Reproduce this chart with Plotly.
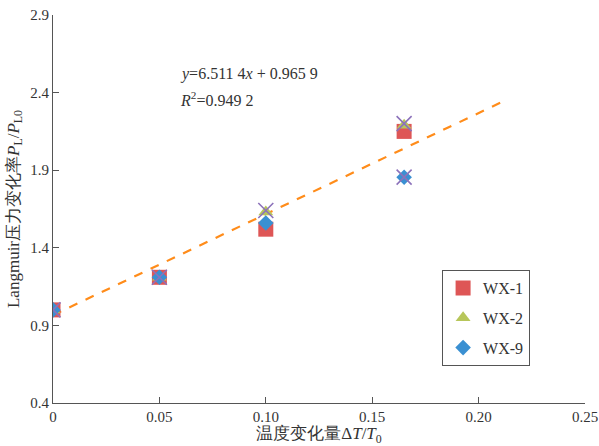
import plotly.graph_objects as go

x_vals = [0, 0.05, 0.10, 0.165]
wx1 = [1.00, 1.21, 1.52, 2.15]
wx2 = [1.00, 1.21, 1.63, 2.19]
wx9 = [1.00, 1.21, 1.56, 1.855]
xmark_x = [0, 0.05, 0.10, 0.165, 0.165]
xmark_y = [1.00, 1.21, 1.64, 2.20, 1.855]
slope, intercept = 6.5114, 0.9659
fit_x = [0, 0.211]
fit_y = [intercept + slope * v for v in fit_x]

xticks = [0, 0.05, 0.10, 0.15, 0.20, 0.25]
xtick_text = ["0", "0.05", "0.10", "0.15", "0.20", "0.25"]
yticks = [0.4, 0.9, 1.4, 1.9, 2.4, 2.9]
ytick_text = ["0.4", "0.9", "1.4", "1.9", "2.4", "2.9"]

FONT = "Liberation Serif, serif"

fig = go.Figure()
fig.add_trace(go.Scatter(x=fit_x, y=fit_y, mode="lines",
                         line=dict(color="#FF8C1A", width=2.2, dash="dash"),
                         showlegend=False))
fig.add_trace(go.Scatter(x=x_vals, y=wx1, mode="markers", name="WX-1", legendgroup="a",
                         marker=dict(symbol="square", size=15, color="#DE5656")))
fig.add_trace(go.Scatter(x=x_vals, y=wx2, mode="markers", name="WX-2", legendgroup="b",
                         marker=dict(symbol="triangle-up", size=13, color="#B7C65A")))
fig.add_trace(go.Scatter(x=x_vals, y=wx9, mode="markers", name="WX-9", legendgroup="c",
                         marker=dict(symbol="diamond", size=12, color="#3A90D2")))
fig.add_trace(go.Scatter(x=xmark_x, y=xmark_y, mode="markers", showlegend=False,
                         marker=dict(symbol="x-thin", size=15, color="#8C72BA",
                                     line=dict(width=1.6, color="#8C72BA"))))

axis_common = dict(showgrid=False, zeroline=False, showline=True, linecolor="#555555",
                   linewidth=1.2, ticks="inside", ticklen=6, tickcolor="#555555",
                   automargin=False,
                   tickfont=dict(family=FONT, size=15, color="#333333"))

fig.update_layout(
    width=599, height=446,
    margin=dict(l=53, r=14, t=15, b=43),
    plot_bgcolor="white", paper_bgcolor="white",
    font=dict(family=FONT, color="#333333"),
    xaxis=dict(range=[0, 0.25], tickvals=xticks, ticktext=xtick_text,
               title=dict(text="温度变化量Δ<i>T</i>/<i>T</i><sub>0</sub>",
                          font=dict(family=FONT, size=17), standoff=2),
               **axis_common),
    yaxis=dict(range=[0.4, 2.9], tickvals=yticks, ticktext=ytick_text,
               title=dict(text="Langmuir压力变化率<i>P</i><sub>L</sub>/<i>P</i><sub>L0</sub>",
                          font=dict(family=FONT, size=17), standoff=6),
               **axis_common),
    legend=dict(x=0.731, y=0.343, xanchor="left", yanchor="top",
                bordercolor="#555555", borderwidth=1.2, bgcolor="white",
                font=dict(family=FONT, size=16, color="#333333"),
                tracegroupgap=6),
    annotations=[
        dict(x=0.235, y=0.848, xref="paper", yref="paper", xanchor="left", yanchor="middle",
             text="<i>y</i>=6.511 4<i>x</i> + 0.965 9", showarrow=False,
             font=dict(family=FONT, size=16, color="#333333")),
        dict(x=0.235, y=0.783, xref="paper", yref="paper", xanchor="left", yanchor="middle",
             text="<i>R</i><sup>2</sup>=0.949 2", showarrow=False,
             font=dict(family=FONT, size=16, color="#333333")),
    ],
)

fig.write_html("out.html", config={"displayModeBar": False},
               post_script="document.body.style.margin='0';document.body.style.overflow='hidden';")
